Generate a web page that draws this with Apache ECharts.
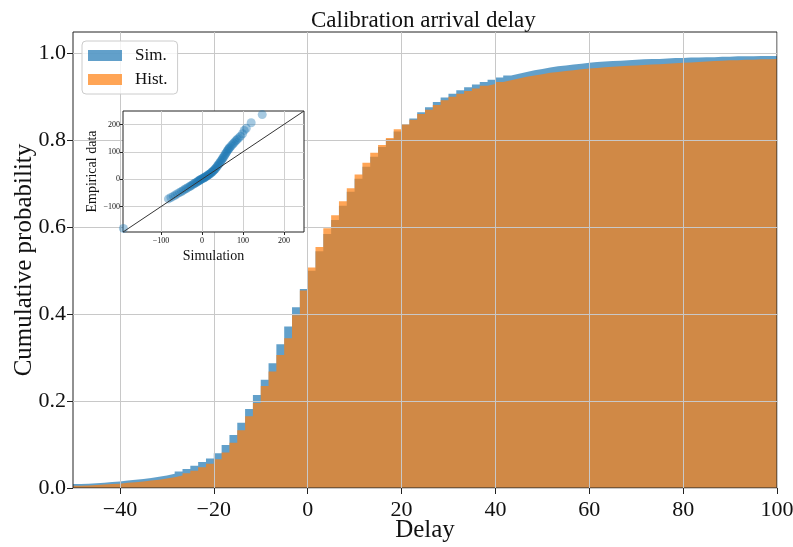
<!DOCTYPE html>
<html>
<head>
<meta charset="utf-8">
<script src="https://cdn.jsdelivr.net/npm/echarts@6/dist/echarts.min.js"></script>
<style>html,body{margin:0;padding:0;background:#fff}#c{width:793px;height:547px}</style>
</head>
<body>
<div id="c"></div>
<script>
// ---- data ----
const binStart = -50;
const binWidth = 5 / 3;
const simCdf = [
0.009,0.010,0.011,0.012,0.014,0.015,0.017,0.019,0.021,0.023,
0.026,0.029,0.033,0.038,0.044,0.051,0.060,0.068,0.080,0.099,
0.122,0.150,0.182,0.214,0.249,0.287,0.331,0.372,0.416,0.458,
0.500,0.545,0.585,0.617,0.650,0.682,0.712,0.740,0.763,0.785,
0.803,0.821,0.837,0.851,0.865,0.877,0.889,0.899,0.908,0.916,
0.923,0.929,0.935,0.940,0.945,0.950,0.954,0.958,0.962,0.965,
0.968,0.971,0.973,0.975,0.977,0.979,0.981,0.982,0.983,0.984,
0.985,0.986,0.987,0.988,0.988,0.989,0.990,0.990,0.991,0.991,
0.992,0.992,0.993,0.993,0.994,0.994,0.994,0.995,0.995,0.995];
const histCdf = [
0.005,0.006,0.007,0.008,0.009,0.010,0.012,0.013,0.015,0.017,
0.019,0.022,0.025,0.029,0.034,0.040,0.048,0.056,0.066,0.082,
0.104,0.133,0.165,0.196,0.235,0.268,0.306,0.345,0.398,0.455,
0.508,0.555,0.598,0.628,0.660,0.690,0.722,0.749,0.772,0.790,
0.806,0.826,0.837,0.848,0.861,0.871,0.882,0.893,0.901,0.908,
0.914,0.920,0.926,0.930,0.935,0.939,0.943,0.947,0.950,0.953,
0.956,0.958,0.960,0.962,0.964,0.966,0.967,0.969,0.970,0.971,
0.972,0.973,0.974,0.975,0.976,0.977,0.978,0.979,0.980,0.981,
0.982,0.983,0.984,0.985,0.985,0.986,0.986,0.987,0.987,0.988];
const xTicks = [-40, -20, 0, 20, 40, 60, 80, 100];
const yTicks = [0, 0.2, 0.4, 0.6, 0.8, 1.0];

// QQ inset
const qqSim = [-192,-82,-76,-70,-65,-60,-55,-50,-46,-42,-38,-34,-30,-27,-24,-21,-18,-15,-12,-10,-8,-6,-4,-2,0,2,4,6,8,10,12,14,16,18,20,22,24,26,28,30,32,34,36,38,40,42,44,46,48,50,52,54,56,58,60,62,64,66,68,71,74,77,80,83,86,90,94,99,103,108,120,147];
const qqEmp = [-180,-72,-67,-62,-58,-53,-49,-45,-41,-37,-34,-30,-27,-24,-21,-18,-15,-13,-10,-8,-6,-4,-2,0,1,3,4,6,8,10,12,14,16,18,20,23,25,28,31,34,37,41,45,49,53,57,61,66,70,75,79,84,89,94,99,104,108,112,116,121,126,131,136,141,146,151,157,166,178,186,206,236];
const qqRange = [-193, 249];
const qqTicks = [-100, 0, 100, 200];

// ---- build ----
function stepData(vals) {
  const out = vals.map((v, i) => [binStart + i * binWidth, v]);
  out.push([binStart + vals.length * binWidth, vals[vals.length - 1]]);
  return out;
}
const FONT = '"Liberation Serif", "DejaVu Serif", serif';
const fmtMinus = v => (v < 0 ? '\u2212' + (-v) : String(v));
const chart = echarts.init(document.getElementById('c'), null, {renderer: 'canvas'});
chart.setOption({
  animation: false,
  backgroundColor: '#fff',
  textStyle: {fontFamily: FONT, color: '#111'},
  title: {
    text: 'Calibration arrival delay', left: 306, top: 4,
    textStyle: {fontFamily: FONT, fontSize: 23, fontWeight: 'normal', color: '#111'}
  },
  legend: {
    orient: 'vertical', left: 82, top: 41, z: 30,
    data: ['Sim.', 'Hist.'], icon: 'rect', itemWidth: 34, itemHeight: 11, itemGap: 7,
    padding: [6, 10, 6, 6], borderColor: '#ccc', borderWidth: 1, borderRadius: 4,
    backgroundColor: 'rgba(255,255,255,0.8)',
    textStyle: {fontFamily: FONT, fontSize: 17, color: '#111', padding: [0, 0, 0, 8]}
  },
  grid: [
    {left: 73, right: 16, top: 32, bottom: 59, show: true, borderColor: '#222', borderWidth: 1,
     backgroundColor: 'transparent', z: 10, outerBoundsMode: 'none', containLabel: false},
    {left: 123, top: 111, width: 181, height: 121, show: true, borderColor: '#222', borderWidth: 1,
     backgroundColor: '#fff', z: 20, outerBoundsMode: 'none', containLabel: false}
  ],
  xAxis: [
    {type: 'value', gridIndex: 0, min: -50, max: 100, z: 10,
     name: 'Delay', nameLocation: 'middle', nameGap: 30, nameMoveOverlap: false,
     nameTextStyle: {fontFamily: FONT, fontSize: 25, color: '#111'},
     axisLine: {show: false, onZero: false},
     axisTick: {show: true, customValues: xTicks, length: 6, lineStyle: {color: '#222'}},
     axisLabel: {customValues: xTicks, formatter: fmtMinus, fontFamily: FONT, fontSize: 22, color: '#111', margin: 11},
     splitLine: {show: true, lineStyle: {color: '#c8c8c8', width: 1}}},
    {type: 'value', gridIndex: 1, min: qqRange[0], max: qqRange[1], z: 21,
     name: 'Simulation', nameLocation: 'middle', nameGap: 17,
     nameTextStyle: {fontFamily: FONT, fontSize: 14, color: '#111'},
     axisLine: {show: false, onZero: false},
     axisTick: {show: true, customValues: qqTicks, length: 3, lineStyle: {color: '#222'}},
     axisLabel: {customValues: qqTicks, formatter: fmtMinus, fontFamily: FONT, fontSize: 8, color: '#111', margin: 5},
     splitLine: {show: true, lineStyle: {color: '#d0d0d0', width: 1}}}
  ],
  yAxis: [
    {type: 'value', gridIndex: 0, min: 0, max: 1.05, z: 10,
     name: 'Cumulative probability', nameLocation: 'middle', nameGap: 36, nameMoveOverlap: false,
     nameTextStyle: {fontFamily: FONT, fontSize: 25, color: '#111'},
     axisLine: {show: false, onZero: false},
     axisTick: {show: true, customValues: yTicks, length: 6, lineStyle: {color: '#222'}},
     axisLabel: {customValues: yTicks, formatter: v => v.toFixed(1), fontFamily: FONT, fontSize: 22, color: '#111', margin: 7},
     splitLine: {show: true, lineStyle: {color: '#c8c8c8', width: 1}}},
    {type: 'value', gridIndex: 1, min: qqRange[0], max: qqRange[1], z: 21,
     name: 'Empirical data', nameLocation: 'middle', nameGap: 22,
     nameTextStyle: {fontFamily: FONT, fontSize: 14, color: '#111'},
     axisLine: {show: false, onZero: false},
     axisTick: {show: true, customValues: qqTicks, length: 3, lineStyle: {color: '#222'}},
     axisLabel: {customValues: qqTicks, formatter: fmtMinus, fontFamily: FONT, fontSize: 8, color: '#111', margin: 3},
     splitLine: {show: true, lineStyle: {color: '#d0d0d0', width: 1}}}
  ],
  series: [
    {name: 'Sim.', type: 'line', xAxisIndex: 0, yAxisIndex: 0, step: 'end', z: 2,
     data: stepData(simCdf), showSymbol: false, symbol: 'none',
     color: 'rgba(31,119,180,0.7)', lineStyle: {width: 0},
     areaStyle: {color: 'rgba(31,119,180,0.7)', opacity: 1}},
    {name: 'Hist.', type: 'line', xAxisIndex: 0, yAxisIndex: 0, step: 'end', z: 3,
     data: stepData(histCdf), showSymbol: false, symbol: 'none',
     color: 'rgba(255,127,14,0.7)', lineStyle: {width: 0},
     areaStyle: {color: 'rgba(255,127,14,0.7)', opacity: 1}},
    {name: 'qq', type: 'scatter', xAxisIndex: 1, yAxisIndex: 1, z: 22, clip: true,
     data: qqSim.map((s, i) => [s, qqEmp[i]]), symbolSize: 9,
     itemStyle: {color: 'rgba(31,119,180,0.5)'}},
    {name: 'diag', type: 'line', xAxisIndex: 1, yAxisIndex: 1, z: 23,
     data: [[qqRange[0], qqRange[0]], [qqRange[1], qqRange[1]]], symbol: 'none',
     lineStyle: {color: '#333', width: 1}}
  ]
});
</script>
</body>
</html>
